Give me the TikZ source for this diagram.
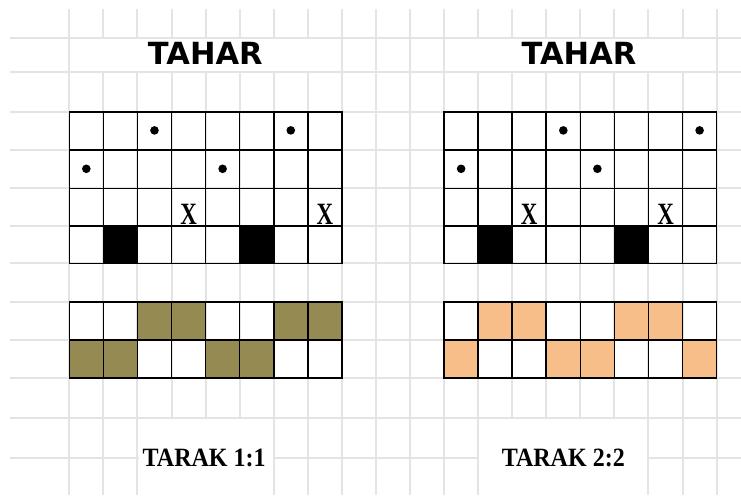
\documentclass[tikz,border=0pt]{standalone}
\usepackage{fontspec}
\usepackage{graphicx}
\newfontfamily\titlefont{DejaVu Sans}
\newfontfamily\labfont{Liberation Serif}
\definecolor{gridgray}{HTML}{E4E4E4}
\definecolor{olivefill}{HTML}{958A52}
\definecolor{peachfill}{HTML}{F8BE8A}
\tikzset{
  gridline/.style={draw=gridgray, line width=2pt},
  cellline/.style={draw=black, line width=1.6pt, line cap=rect},
  titletext/.style={inner sep=0pt, font=\titlefont\bfseries\fontsize{30.5}{30.5}\selectfont},
  labtext/.style={inner sep=0pt, font=\labfont\bfseries\fontsize{26.4}{26.4}\selectfont},
  xtext/.style={inner sep=0pt, anchor=base, font=\labfont\bfseries\fontsize{31}{31}\selectfont},
  dotmark/.style={fill=black},
}
\newcommand{\cx}[1]{69.3+34.07*(#1)}
\begin{document}
\begin{tikzpicture}[x=1pt,y=-1pt]
\useasboundingbox (0,0) rectangle (741,495);
\fill[white] (0,0) rectangle (741,495);
% background grid
\foreach \y in {37.7,71.7,111.7,150,188.3,226,263.3,301.7,340,377.7,417.7,457.7}
  \draw[gridline] (10,\y) -- (741,\y);
\foreach \k in {0,...,19}
  \draw[gridline] ({\cx{\k}},9.3) -- ({\cx{\k}},495);
% white label areas
\fill[white] ({\cx{0}+1.2},38.9) rectangle ({\cx{8}-1.2},70.5);
\fill[white] ({\cx{11}+1.2},38.9) rectangle ({\cx{19}-1.2},70.5);
\fill[white] ({\cx{2}+1.2},418.9) rectangle ({\cx{6}-1.2},495);
\fill[white] ({\cx{12}+1.2},418.9) rectangle ({\cx{17}-1.2},495);
% titles
\node[titletext] (title1) at (205.3,53.6) {TAHAR};
\node[titletext] (title2) at (579.0,53.6) {TAHAR};
% ---- top grids: black squares
\foreach \k in {1,5,12,16}
  \fill[black] ({\cx{\k}},226) rectangle ({\cx{\k+1}},263.3);
% ---- bottom grids: coloured cells
\foreach \k in {2,3,6,7}
  \fill[olivefill] ({\cx{\k}},301.7) rectangle ({\cx{\k+1}},340);
\foreach \k in {0,1,4,5}
  \fill[olivefill] ({\cx{\k}},340) rectangle ({\cx{\k+1}},377.7);
\foreach \k in {12,13,16,17}
  \fill[peachfill] ({\cx{\k}},301.7) rectangle ({\cx{\k+1}},340);
\foreach \k in {11,14,15,18}
  \fill[peachfill] ({\cx{\k}},340) rectangle ({\cx{\k+1}},377.7);
% ---- cell lines
\foreach \o in {0,11} {
  \foreach \y in {111.7,150,188.3,226,263.3}
    \draw[cellline] ({\cx{\o}},\y) -- ({\cx{\o+8}},\y);
  \foreach \k in {0,...,8}
    \draw[cellline] ({\cx{\o+\k}},111.7) -- ({\cx{\o+\k}},263.3);
  \foreach \y in {301.7,340,377.7}
    \draw[cellline] ({\cx{\o}},\y) -- ({\cx{\o+8}},\y);
  \foreach \k in {0,...,8}
    \draw[cellline] ({\cx{\o+\k}},301.7) -- ({\cx{\o+\k}},377.7);
}
% ---- dots
\foreach \k in {2.5,6.5,14.5,18.5}
  \fill[dotmark] ({\cx{\k}},130.4) circle[radius=4.3];
\foreach \k in {0.5,4.5,11.5,15.5}
  \fill[dotmark] ({\cx{\k}},168.8) circle[radius=4.3];
% ---- X marks
\node[xtext] (xa) at ({\cx{3.5}},224.3) {\scalebox{0.74}[1]{X}};
\node[xtext] (xb) at ({\cx{7.5}},224.3) {\scalebox{0.74}[1]{X}};
\node[xtext] (xc) at ({\cx{13.5}},224.3) {\scalebox{0.74}[1]{X}};
\node[xtext] (xd) at ({\cx{17.5}},224.3) {\scalebox{0.74}[1]{X}};
% ---- labels
\node[labtext] (lab1) at (204.2,457.8) {\scalebox{0.91}[1]{TARAK 1:1}};
\node[labtext] (lab2) at (563.3,457.8) {\scalebox{0.91}[1]{TARAK 2:2}};
\end{tikzpicture}
\end{document}
